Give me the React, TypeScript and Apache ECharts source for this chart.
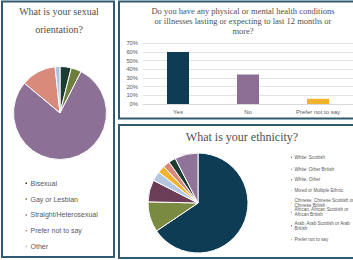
import React, { useEffect, useRef } from "react";
import * as echarts from "echarts";

// ---- data ----
const orientationCategories = ["Bisexual", "Gay or Lesbian", "Straight/Heterosexual", "Prefer not to say", "Other"];
const orientationValues = [3.9, 3.6, 78.6, 12.2, 1.7];
const orientationColors = ["#1c3b31", "#6e7f3c", "#8c7096", "#d88b7b", "#a9c3e2"];

const healthCategories = ["Yes", "No", "Prefer not to say"];
const healthValues = [60, 34, 6];
const healthColors = ["#0e3c55", "#8c6d93", "#f2b42e"];
const healthAxisMin = 0;
const healthAxisMax = 70;
const healthAxisStep = 10;

const ethnicityCategories = [
  "White: Scottish",
  "White: Other British",
  "White: Other",
  "Mixed or Multiple Ethnic",
  "Chinese, Chinese Scottish or Chinese British",
  "African, African Scottish or African British",
  "Arab, Arab Scottish or Arab British",
  "Prefer not to say",
];
const ethnicityLegendLines = [
  "White: Scottish",
  "White: Other British",
  "White: Other",
  "Mixed or Multiple Ethnic",
  "Chinese, Chinese Scottish or\nChinese British",
  "African, African Scottish or\nAfrican British",
  "Arab, Arab Scottish or Arab\nBritish",
  "Prefer not to say",
];
const ethnicityValues = [65.5, 9.8, 7.1, 3.1, 2.4, 2.2, 2.3, 7.5];
const ethnicityColors = ["#0e3c55", "#7a8a40", "#6b3d56", "#b3c7e3", "#f2b42e", "#d98878", "#1d3b32", "#8f7399"];

const titleOrientation = "What is your sexual\norientation?";
const titleHealth = "Do you have any physical or mental health conditions\nor illnesses lasting or expecting to last 12 months or\nmore?";
const titleEthnicity = "What is your ethnicity?";

// ---- layout ----
const ethLegendLineCenters = [157, 169, 179.7, 190.3, 203, 212.3, 225.7, 239.7];
const ethFont = 4.6;
const ethLine = 4.7;

const BORDER = "#2f5b70";
const TEXT = "#595959";
const SERIF = "'Liberation Serif', 'DejaVu Serif', serif";
const SANS = "'Liberation Sans', 'Open Sans', sans-serif";

export default function App() {
  const ref = useRef<HTMLDivElement>(null);
  useEffect(() => {
    if (!ref.current) return;
    const chart = echarts.init(ref.current, undefined, { renderer: "svg" });

    const ethLegends = ethnicityCategories.map((name, i) => {
      const twoLine = ethnicityLegendLines[i].includes("\n");
      const iconH = 3;
      const textH = twoLine ? ethLine * 3 : ethLine;
      const offset = Math.max(0, textH / 2 - iconH / 2);
      const top = ethLegendLineCenters[i] - iconH / 2 - offset;
      return {
        orient: "vertical",
        left: 289,
        top,
        padding: 0,
        itemWidth: 3,
        itemHeight: iconH,
        icon: "rect",
        selectedMode: false,
        data: [
          {
            name,
            textStyle: {
              padding: twoLine ? [ethLine, 0, 0, -3.5] : [0, 0, 0, -3.5],
            },
          },
        ],
        formatter: () => ethnicityLegendLines[i],
        textStyle: {
          fontSize: ethFont,
          lineHeight: ethLine,
          color: TEXT,
          fontFamily: SANS,
        },
      };
    });

    const option: any = {
      animation: false,
      graphic: [
        { type: "rect", shape: { x: 2, y: 1.5, width: 112, height: 255.5 }, style: { fill: "none", stroke: BORDER, lineWidth: 2 } },
        { type: "rect", shape: { x: 119, y: 1.5, width: 240, height: 117 }, style: { fill: "none", stroke: BORDER, lineWidth: 2 } },
        { type: "rect", shape: { x: 119, y: 125, width: 240, height: 133 }, style: { fill: "none", stroke: BORDER, lineWidth: 2 } },
        {
          type: "text", x: 59, y: 20,
          style: { text: titleOrientation, fontSize: 10, fontFamily: SERIF, fill: "#505050", lineHeight: 18, textAlign: "center", textVerticalAlign: "middle", align: "center", verticalAlign: "middle" },
        },
        {
          type: "text", x: 243, y: 21,
          style: { text: titleHealth, fontSize: 8.5, fontFamily: SERIF, fill: "#505050", lineHeight: 10.2, textAlign: "center", textVerticalAlign: "middle", align: "center", verticalAlign: "middle" },
        },
        {
          type: "text", x: 242, y: 137,
          style: { text: titleEthnicity, fontSize: 12, fontFamily: SERIF, fill: "#505050", textAlign: "center", textVerticalAlign: "middle", align: "center", verticalAlign: "middle" },
        },
      ],
      legend: [
        {
          orient: "vertical",
          left: 23.5,
          top: 179.3,
          padding: 0,
          itemWidth: 3.5,
          itemHeight: 3.5,
          itemGap: 7.8,
          icon: "rect",
          selectedMode: false,
          data: orientationCategories,
          textStyle: { fontSize: 7, lineHeight: 8, color: TEXT, fontFamily: SANS, padding: [0, 0, 0, -2.5] },
        },
        ...ethLegends,
      ],
      grid: { left: 143, right: -4, top: 43.3, bottom: 260 - 104 },
      xAxis: {
        type: "category",
        data: healthCategories,
        axisTick: { show: false },
        axisLine: { lineStyle: { color: "#d9d9d9" } },
        axisLabel: { fontSize: 6, color: TEXT, fontFamily: SANS, margin: 5 },
      },
      yAxis: {
        type: "value",
        min: healthAxisMin,
        max: healthAxisMax,
        interval: healthAxisStep,
        axisLabel: { formatter: "{value}%", fontSize: 5.8, color: TEXT, fontFamily: SANS, margin: 5 },
        splitLine: { lineStyle: { color: "#e3e3e3" } },
        axisLine: { show: false },
        axisTick: { show: false },
      },
      series: [
        {
          type: "bar",
          barWidth: 22,
          data: healthValues.map((v, i) => ({ value: v, itemStyle: { color: healthColors[i] } })),
        },
        {
          type: "pie",
          center: [60, 113],
          radius: 46.5,
          startAngle: 90,
          clockwise: true,
          label: { show: false },
          labelLine: { show: false },
          emphasis: { disabled: true },
          itemStyle: { borderColor: "#fff", borderWidth: 1 },
          data: orientationCategories.map((n, i) => ({ name: n, value: orientationValues[i], itemStyle: { color: orientationColors[i] } })),
        },
        {
          type: "pie",
          center: [198, 203],
          radius: 50,
          startAngle: 90,
          clockwise: true,
          label: { show: false },
          labelLine: { show: false },
          emphasis: { disabled: true },
          itemStyle: { borderColor: "#fff", borderWidth: 1 },
          data: ethnicityCategories.map((n, i) => ({ name: n, value: ethnicityValues[i], itemStyle: { color: ethnicityColors[i] } })),
        },
      ],
    };
    chart.setOption(option);
    return () => chart.dispose();
  }, []);
  return (
    <div
      ref={ref}
      style={{ position: "fixed", left: 0, top: 0, width: 353, height: 260, background: "#fff" }}
    />
  );
}
